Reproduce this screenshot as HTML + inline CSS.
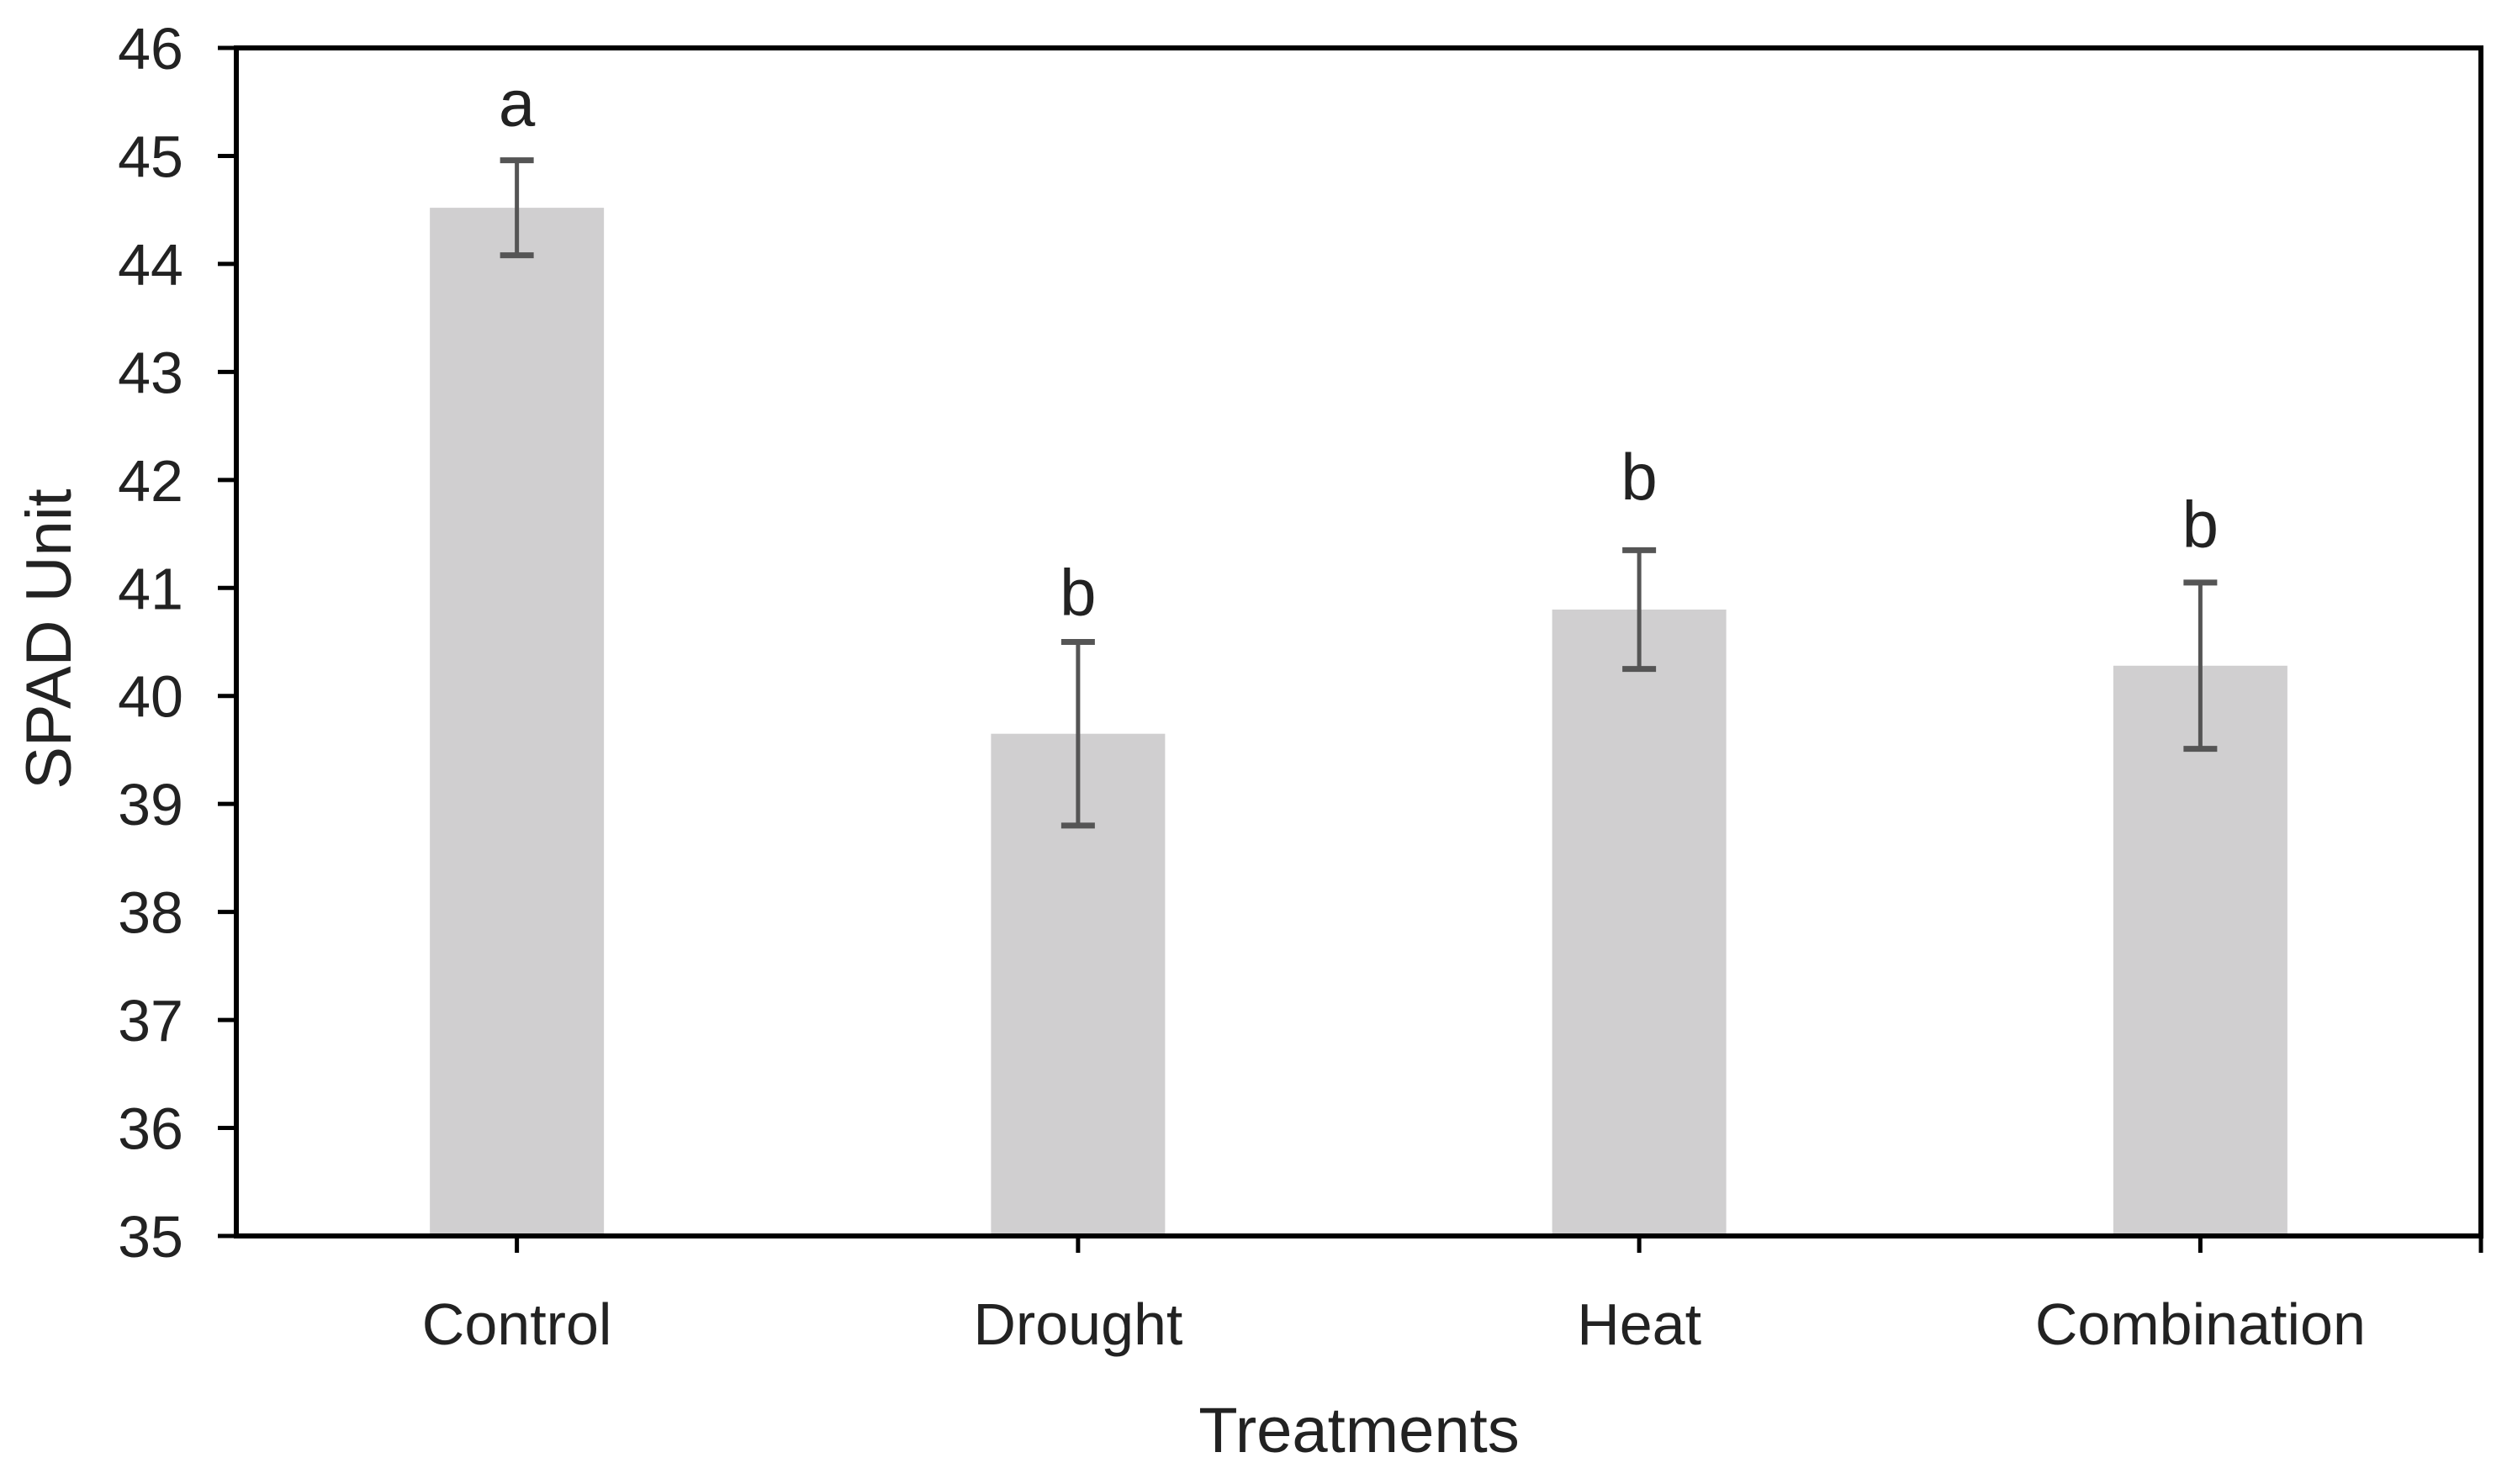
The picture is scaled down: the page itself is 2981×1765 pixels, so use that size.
<!DOCTYPE html>
<html><head><meta charset="utf-8">
<style>
html,body{margin:0;padding:0;background:#fff;}
svg{display:block;}
text{font-family:"Liberation Sans",sans-serif;fill:#222;}
</style></head>
<body>
<svg id="chart" width="2981" height="1765" viewBox="0 0 2981 1765" xmlns="http://www.w3.org/2000/svg">
<rect width="2981" height="1765" fill="#fff"/>
<g id="bars"></g>
<g id="errs"></g>
<g id="letters"></g>
<g id="axes"></g>
<text x="0" y="0" transform="translate(84,760) rotate(-90)" text-anchor="middle" font-size="76">SPAD Unit</text>
<text x="1616" y="1727" text-anchor="middle" font-size="76">Treatments</text>
</svg>
<script>
const categories = ["Control", "Drought", "Heat", "Combination"];
const values = [44.52, 39.65, 40.8, 40.28];
const errors = [0.44, 0.85, 0.55, 0.77];
const letters = ["a", "b", "b", "b"];
const letterLevels = [45.31, 40.78, 41.85, 41.41];
const yTicks = [35, 36, 37, 38, 39, 40, 41, 42, 43, 44, 45, 46];

const NS = "http://www.w3.org/2000/svg";
const L = 281, R = 2950, T = 57, B = 1470;
const yMin = 35, yMax = 46;
function y(v){ return B - (v - yMin) / (yMax - yMin) * (B - T); }
const band = (R - L) / categories.length;
function xc(i){ return L + band * (i + 0.5); }
const barW = 207;
function mk(tag, attrs, parent){
  const e = document.createElementNS(NS, tag);
  for (const k in attrs) e.setAttribute(k, attrs[k]);
  parent.appendChild(e);
  return e;
}
const gb = document.getElementById("bars");
const ge = document.getElementById("errs");
const gl = document.getElementById("letters");
const ga = document.getElementById("axes");

categories.forEach((c, i) => {
  const cx = xc(i);
  const r = mk("rect", {x: cx - barW/2, y: y(values[i]), width: barW, height: B - y(values[i]), fill: "#d0cfd0"}, gb);
  
  
  const top = y(values[i] + errors[i]), bot = y(values[i] - errors[i]);
  const eg = mk("g", {stroke: "#555", "stroke-width": 5}, ge);
  
  
  mk("line", {x1: cx, x2: cx, y1: top, y2: bot}, eg);
  mk("line", {x1: cx - 20, x2: cx + 20, y1: top, y2: top, "stroke-width": 7}, eg);
  mk("line", {x1: cx - 20, x2: cx + 20, y1: bot, y2: bot, "stroke-width": 7}, eg);
  const t = mk("text", {x: cx, y: y(letterLevels[i]) + 4, "text-anchor": "middle", "font-size": 78}, gl);
  t.textContent = letters[i];
  
  
  const tk = mk("line", {x1: cx, x2: cx, y1: B, y2: B + 20, stroke: "#000", "stroke-width": 5}, ga);
  
  
  const lb = mk("text", {x: cx, y: B + 129, "text-anchor": "middle", "font-size": 70}, ga);
  lb.textContent = c;
  
  
});
yTicks.forEach(v => {
  const tk = mk("line", {x1: L - 22, x2: L, y1: y(v), y2: y(v), stroke: "#000", "stroke-width": 5}, ga);
  
  
  const lb = mk("text", {x: 218, y: y(v) + 25, "text-anchor": "end", "font-size": 70}, ga);
  lb.textContent = v;
  
  
});
const frame = mk("rect", {x: L, y: T, width: R - L, height: B - T, fill: "none", stroke: "#000", "stroke-width": 6}, ga);


const rt = mk("line", {x1: R, x2: R, y1: B, y2: B + 20, stroke: "#000", "stroke-width": 5}, ga);


</script>
</body></html>
